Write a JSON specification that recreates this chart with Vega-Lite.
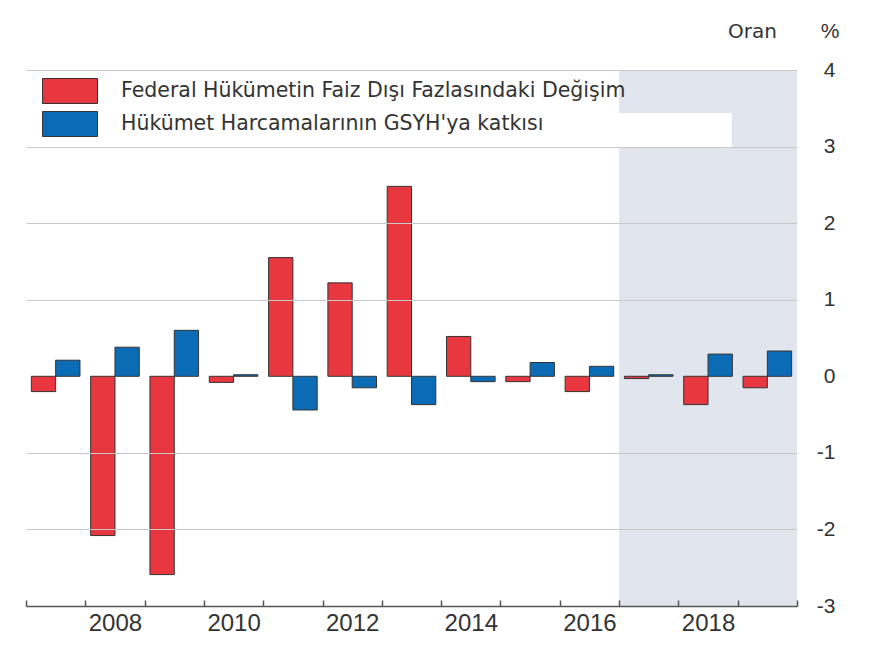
{
  "$schema": "https://vega.github.io/schema/vega-lite/v6.json",
  "width": 771,
  "height": 536,
  "autosize": {"type": "none"},
  "padding": {"left": 26, "top": 70, "right": 98, "bottom": 63},
  "background": "white",
  "config": {"view": {"stroke": null}, "font": "Liberation Sans"},
  "title": {"text": "Oran", "anchor": "end", "frame": "group", "font": "DejaVu Sans", "fontSize": 20, "fontWeight": "normal", "color": "#333333", "dx": -20, "offset": 0, "dy": 22},
  "datasets": {
    "bars": [
      {"year": 2007, "series": "Federal Hükümetin Faiz Dışı Fazlasındaki Değişim", "value": -0.2},
      {"year": 2007, "series": "Hükümet Harcamalarının GSYH'ya katkısı", "value": 0.21},
      {"year": 2008, "series": "Federal Hükümetin Faiz Dışı Fazlasındaki Değişim", "value": -2.08},
      {"year": 2008, "series": "Hükümet Harcamalarının GSYH'ya katkısı", "value": 0.38},
      {"year": 2009, "series": "Federal Hükümetin Faiz Dışı Fazlasındaki Değişim", "value": -2.59},
      {"year": 2009, "series": "Hükümet Harcamalarının GSYH'ya katkısı", "value": 0.6},
      {"year": 2010, "series": "Federal Hükümetin Faiz Dışı Fazlasındaki Değişim", "value": -0.08},
      {"year": 2010, "series": "Hükümet Harcamalarının GSYH'ya katkısı", "value": 0.02},
      {"year": 2011, "series": "Federal Hükümetin Faiz Dışı Fazlasındaki Değişim", "value": 1.55},
      {"year": 2011, "series": "Hükümet Harcamalarının GSYH'ya katkısı", "value": -0.44},
      {"year": 2012, "series": "Federal Hükümetin Faiz Dışı Fazlasındaki Değişim", "value": 1.22},
      {"year": 2012, "series": "Hükümet Harcamalarının GSYH'ya katkısı", "value": -0.15},
      {"year": 2013, "series": "Federal Hükümetin Faiz Dışı Fazlasındaki Değişim", "value": 2.48},
      {"year": 2013, "series": "Hükümet Harcamalarının GSYH'ya katkısı", "value": -0.37},
      {"year": 2014, "series": "Federal Hükümetin Faiz Dışı Fazlasındaki Değişim", "value": 0.52},
      {"year": 2014, "series": "Hükümet Harcamalarının GSYH'ya katkısı", "value": -0.07},
      {"year": 2015, "series": "Federal Hükümetin Faiz Dışı Fazlasındaki Değişim", "value": -0.07},
      {"year": 2015, "series": "Hükümet Harcamalarının GSYH'ya katkısı", "value": 0.18},
      {"year": 2016, "series": "Federal Hükümetin Faiz Dışı Fazlasındaki Değişim", "value": -0.2},
      {"year": 2016, "series": "Hükümet Harcamalarının GSYH'ya katkısı", "value": 0.13},
      {"year": 2017, "series": "Federal Hükümetin Faiz Dışı Fazlasındaki Değişim", "value": -0.03},
      {"year": 2017, "series": "Hükümet Harcamalarının GSYH'ya katkısı", "value": 0.02},
      {"year": 2018, "series": "Federal Hükümetin Faiz Dışı Fazlasındaki Değişim", "value": -0.37},
      {"year": 2018, "series": "Hükümet Harcamalarının GSYH'ya katkısı", "value": 0.29},
      {"year": 2019, "series": "Federal Hükümetin Faiz Dışı Fazlasındaki Değişim", "value": -0.15},
      {"year": 2019, "series": "Hükümet Harcamalarının GSYH'ya katkısı", "value": 0.33}
    ]
  },
  "layer": [
    {
      "data": {"values": [{}]},
      "layer": [
        {
          "mark": {"type": "rect", "color": "#e1e5ee"},
          "encoding": {
            "x": {
              "datum": 2016.5,
              "type": "quantitative",
              "scale": {"domain": [2006.5, 2019.5], "nice": false, "zero": false},
              "axis": {
                "orient": "bottom",
                "values": [2006.5, 2007.5, 2008.5, 2009.5, 2010.5, 2011.5, 2012.5, 2013.5, 2014.5, 2015.5, 2016.5, 2017.5, 2018.5, 2019.5],
                "labelExpr": "(datum.value % 2 == 1.5 && datum.value < 2019) ? toString(datum.value + 0.5) : ''",
                "labelOffset": 29.65,
                "labelOverlap": false,
                "labelBound": false,
                "labelFlush": false,
                "labelFontSize": 24,
                "labelColor": "#333333",
                "labelPadding": 11,
                "domainColor": "#555555",
                "domainWidth": 1.5,
                "tickColor": "#555555",
                "tickWidth": 1.5,
                "tickSize": -6,
                "grid": false,
                "title": null,
                "zindex": 2
              }
            },
            "x2": {"datum": 2019.5}
          }
        },
        {
          "mark": {"type": "rect", "color": "white"},
          "encoding": {
            "x": {"datum": 2016.02, "type": "quantitative"},
            "x2": {"datum": 2018.4},
            "y": {"datum": 3.44, "type": "quantitative"},
            "y2": {"datum": 2.98}
          }
        }
      ]
    },
    {
      "data": {"name": "bars"},
      "mark": {"type": "bar", "stroke": "#333333", "strokeWidth": 1, "opacity": 1},
      "encoding": {
        "x": {"field": "year", "type": "ordinal", "scale": {"paddingInner": 0, "paddingOuter": 0}, "axis": null},
        "xOffset": {"field": "series", "type": "nominal", "scale": {"paddingInner": 0, "paddingOuter": 0.22}},
        "y": {
          "field": "value",
          "type": "quantitative",
          "scale": {"domain": [-3, 4], "nice": false, "zero": false},
          "axis": {
            "orient": "right",
            "values": [-3, -2, -1, 0, 1, 2, 3, 4],
            "labelExpr": "toString(datum.value)",
            "grid": true,
            "gridColor": "#c8c8c8",
            "gridWidth": 1,
            "gridOpacity": {"condition": {"test": "datum.value === 0", "value": 0}, "value": 1},
            "domain": false,
            "ticks": false,
            "labelPadding": 38,
            "labelAlign": "right",
            "labelBaseline": "middle",
            "labelFontSize": 21,
            "labelColor": "#333333",
            "title": "%",
            "titleAngle": 0,
            "titleFontSize": 21,
            "titleFontWeight": "normal",
            "titleColor": "#333333",
            "titleAlign": "right",
            "titleBaseline": "middle",
            "titleX": 42,
            "titleY": -39,
            "zindex": 1
          }
        },
        "color": {
          "field": "series",
          "type": "nominal",
          "scale": {"range": ["#e8373f", "#0b6cb5"]},
          "legend": {
            "orient": "none",
            "legendX": 31,
            "legendY": 8,
            "title": null,
            "padding": 0,
            "symbolType": "M-2.2,-1H2.2V1H-2.2Z",
            "symbolSize": 625,
            "symbolStrokeColor": "#333333",
            "symbolStrokeWidth": 1,
            "symbolOpacity": 1,
            "labelFont": "DejaVu Sans",
            "labelFontSize": 20.5,
            "labelColor": "#333333",
            "labelOffset": 38,
            "labelLimit": 0,
            "rowPadding": 3
          }
        }
      }
    },
    {
      "mark": {"type": "rule", "color": "#555555", "strokeWidth": 1.5},
      "encoding": {"y": {"datum": 0, "type": "quantitative"}}
    }
  ],
  "resolve": {"scale": {"x": "independent"}, "axis": {"x": "independent"}}
}
